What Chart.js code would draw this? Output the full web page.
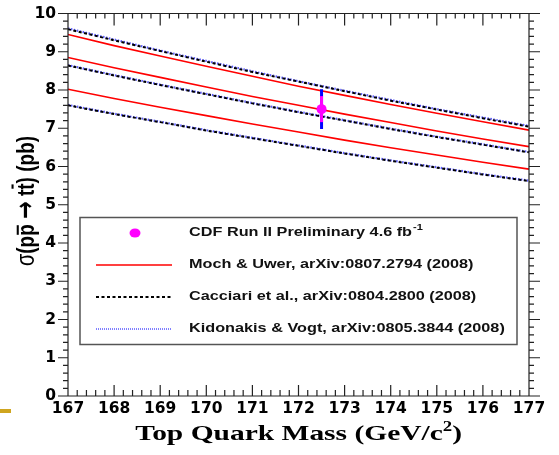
<!DOCTYPE html>
<html>
<head>
<meta charset="utf-8">
<script src="https://cdn.jsdelivr.net/npm/chart.js@4.4.1/dist/chart.umd.min.js"></script>
<style>
  html, body { margin: 0; padding: 0; background: #fff; }
</style>
</head>
<body>
<canvas id="chart" width="559" height="455"></canvas>
<script>
// top quark mass grid (GeV/c^2)
const masses = [167, 168, 169, 170, 171, 172, 173, 174, 175, 176, 177];

// ttbar cross section predictions (pb): upper / central / lower bands
const mochUpper   = [9.45, 9.16, 8.89, 8.62, 8.36, 8.10, 7.86, 7.62, 7.39, 7.17, 6.95];
const mochCentral = [8.85, 8.58, 8.33, 8.08, 7.83, 7.60, 7.37, 7.15, 6.93, 6.72, 6.52];
const mochLower   = [8.02, 7.78, 7.55, 7.33, 7.11, 6.90, 6.69, 6.49, 6.30, 6.11, 5.93];

const cacciariUpper   = [9.59, 9.30, 9.02, 8.74, 8.47, 8.22, 7.97, 7.72, 7.49, 7.26, 7.04];
const cacciariCentral = [8.64, 8.38, 8.13, 7.89, 7.65, 7.42, 7.20, 6.98, 6.77, 6.57, 6.37];
const cacciariLower   = [7.60, 7.37, 7.16, 6.94, 6.74, 6.54, 6.34, 6.15, 5.97, 5.79, 5.62];

const kidonakisUpper   = [9.61, 9.32, 9.03, 8.76, 8.49, 8.23, 7.98, 7.74, 7.50, 7.28, 7.06];
const kidonakisCentral = [8.65, 8.39, 8.14, 7.90, 7.66, 7.43, 7.21, 6.99, 6.78, 6.58, 6.38];
const kidonakisLower   = [7.61, 7.38, 7.17, 6.95, 6.75, 6.55, 6.35, 6.16, 5.98, 5.80, 5.63];

// CDF measurement
const cdfMass = [172.5];
const cdfXsec = [7.5];
const cdfErrStat = [0.34];
const cdfErrTotal = [0.52];

const legendLabels = [
  'CDF Run II Preliminary 4.6 fb',
  'Moch & Uwer, arXiv:0807.2794 (2008)',
  'Cacciari et al., arXiv:0804.2800 (2008)',
  'Kidonakis & Vogt, arXiv:0805.3844 (2008)'
];

const RED = '#ff0000';
const BLACK = '#000000';
const BLUE = 'rgba(50,50,255,0.8)';
const MAGENTA = '#ff00ff';

const pts = arr => masses.map((m, i) => ({ x: m, y: arr[i] }));

function redLine(arr) {
  return { type: 'line', data: pts(arr), borderColor: RED, borderWidth: 1.6,
           pointRadius: 0, tension: 0, order: 2 };
}
function blackLine(arr) {
  return { type: 'line', data: pts(arr), borderColor: BLACK, borderWidth: 2,
           borderDash: [3, 2.5], pointRadius: 0, tension: 0, order: 1 };
}
function blueLine(arr) {
  return { type: 'line', data: pts(arr), borderColor: BLUE, borderWidth: 2.2,
           borderDash: [1.5, 1.5], pointRadius: 0, tension: 0, order: 3 };
}

// text stretched along its own x axis
function wideText(ctx, text, x, y, sx) {
  ctx.save();
  ctx.translate(x, y);
  ctx.scale(sx, 1);
  ctx.fillText(text, 0, 0);
  ctx.restore();
  return ctx.measureText(text).width * sx;
}

const errorBars = {
  id: 'errorBars',
  beforeDatasetDraw(chart, args) {
    if (args.index !== 9) return;
    const ctx = chart.ctx, xs = chart.scales.x, ys = chart.scales.y;
    ctx.save();
    ctx.lineWidth = 3;
    cdfMass.forEach((m, i) => {
      const px = xs.getPixelForValue(m);
      ctx.strokeStyle = '#0000ff';
      ctx.beginPath();
      ctx.moveTo(px, ys.getPixelForValue(cdfXsec[i] + cdfErrTotal[i]));
      ctx.lineTo(px, ys.getPixelForValue(cdfXsec[i] - cdfErrTotal[i]));
      ctx.stroke();
      ctx.strokeStyle = MAGENTA;
      ctx.beginPath();
      ctx.moveTo(px, ys.getPixelForValue(cdfXsec[i] + cdfErrStat[i]));
      ctx.lineTo(px, ys.getPixelForValue(cdfXsec[i] - cdfErrStat[i]));
      ctx.stroke();
    });
    ctx.restore();
  }
};

const framePlugin = {
  id: 'frame',
  afterDraw(chart) {
    const ctx = chart.ctx;

    ctx.save();
    // slide accent bar
    ctx.fillStyle = '#cfa51f';
    ctx.fillRect(0, 409, 11, 4);

    // legend box
    ctx.fillStyle = '#fff';
    ctx.fillRect(80, 217.5, 437, 127);
    ctx.strokeStyle = '#555';
    ctx.lineWidth = 1.5;
    ctx.strokeRect(80, 217.5, 437, 127);

    const rows = [233, 265, 297, 329];
    ctx.fillStyle = MAGENTA;
    ctx.beginPath();
    ctx.ellipse(135, rows[0], 5.5, 4.5, 0, 0, Math.PI * 2);
    ctx.fill();

    ctx.lineWidth = 1.6; ctx.strokeStyle = RED;
    ctx.beginPath(); ctx.moveTo(96, rows[1]); ctx.lineTo(172, rows[1]); ctx.stroke();
    ctx.lineWidth = 2; ctx.strokeStyle = BLACK; ctx.setLineDash([3, 2.5]);
    ctx.beginPath(); ctx.moveTo(96, rows[2]); ctx.lineTo(172, rows[2]); ctx.stroke();
    ctx.lineWidth = 1; ctx.strokeStyle = '#0000ff'; ctx.setLineDash([1, 1]);
    ctx.beginPath(); ctx.moveTo(96, rows[3]); ctx.lineTo(172, rows[3]); ctx.stroke();
    ctx.setLineDash([]);

    ctx.fillStyle = '#111';
    ctx.textBaseline = 'middle';
    ctx.textAlign = 'left';
    legendLabels.forEach((t, i) => {
      ctx.font = 'bold 12.5px "Liberation Sans", Arial, sans-serif';
      const w = wideText(ctx, t, 189, rows[i], 1.3);
      if (i === 0) {
        ctx.font = 'bold 8.5px "Liberation Sans", Arial, sans-serif';
        wideText(ctx, '-1', 189 + w + 1, rows[i] - 5, 1.3);
      }
    });

    // x axis title
    ctx.fillStyle = '#000';
    ctx.textBaseline = 'alphabetic';
    const serif = 'bold 22px "Liberation Serif", "Times New Roman", serif';
    const serifSup = 'bold 14px "Liberation Serif", "Times New Roman", serif';
    const sx = 1.34;
    ctx.font = serif;
    const wMain = ctx.measureText('Top Quark Mass (GeV/c').width * sx;
    const wClose = ctx.measureText(')').width * sx;
    ctx.font = serifSup;
    const wSup = ctx.measureText('2').width * sx;
    const x0 = 298.6 - (wMain + wSup + wClose) / 2;
    ctx.font = serif;
    wideText(ctx, 'Top Quark Mass (GeV/c', x0, 440, sx);
    ctx.font = serifSup;
    wideText(ctx, '2', x0 + wMain, 431, sx);
    ctx.font = serif;
    wideText(ctx, ')', x0 + wMain + wSup, 440, sx);

    // y axis title: sigma(p pbar -> t tbar) (pb)
    const bold = 'bold 19px "Liberation Sans", Arial, sans-serif';
    const thin = '20px "Liberation Sans", Arial, sans-serif';
    const arrow = 'bold 21px "DejaVu Sans", sans-serif';
    const parts = [
      { t: '\u03c3', f: thin }, { t: '(', f: bold }, { t: 'p', f: bold },
      { t: 'p', f: bold, bar: -12.5 }, { t: ' ', f: bold }, { t: '\u2192', f: arrow },
      { t: ' ', f: bold }, { t: 't', f: bold }, { t: 't', f: bold, bar: -16.5 },
      { t: ') (pb)', f: bold }
    ];
    let total = 0;
    parts.forEach(p => { ctx.font = p.f; p.w = ctx.measureText(p.t).width; total += p.w; });
    ctx.translate(34, 201);
    ctx.rotate(-Math.PI / 2);
    ctx.scale(1, 1.3);
    let cx = -total / 2;
    ctx.strokeStyle = '#000';
    ctx.lineWidth = 1.6;
    parts.forEach(p => {
      ctx.font = p.f;
      ctx.fillText(p.t, cx, 0);
      if (p.bar) {
        ctx.beginPath();
        ctx.moveTo(cx + 1, p.bar); ctx.lineTo(cx + p.w - 1, p.bar);
        ctx.stroke();
      }
      cx += p.w;
    });
    ctx.restore();
  }
};

// plot frame and its ticks in one path: 50 divisions per axis,
// every fifth one major; x ticks point inward, y ticks outward
const axisTicks = {
  id: 'axisTicks',
  afterDraw(chart) {
    const ctx = chart.ctx;
    const { left, right, top, bottom } = chart.chartArea;
    const dx = (right - left) / 50, dy = (bottom - top) / 50;
    ctx.save();
    ctx.setLineDash([]);
    ctx.strokeStyle = '#222';
    ctx.lineWidth = 1.2;
    ctx.beginPath();
    ctx.rect(left, top, right - left, bottom - top);
    for (let i = 1; i < 50; i++) {
      const major = i % 5 === 0;
      const px = left + i * dx;
      ctx.moveTo(px, bottom); ctx.lineTo(px, bottom - (major ? 11 : 6));
      ctx.moveTo(px, top); ctx.lineTo(px, top + (major ? 12 : 5));
    }
    for (let i = 0; i <= 50; i++) {
      const major = i % 5 === 0;
      const py = bottom - i * dy;
      ctx.moveTo(left, py); ctx.lineTo(left - (major ? 10 : 5), py);
      ctx.moveTo(right, py); ctx.lineTo(right + (major ? 11 : 5), py);
    }
    ctx.stroke();
    ctx.restore();
  }
};

new Chart(document.getElementById('chart').getContext('2d'), {
  data: {
    datasets: [
      redLine(mochUpper), redLine(mochCentral), redLine(mochLower),
      blackLine(cacciariUpper), blackLine(cacciariCentral), blackLine(cacciariLower),
      blueLine(kidonakisUpper), blueLine(kidonakisCentral), blueLine(kidonakisLower),
      {
        type: 'scatter',
        data: cdfMass.map((m, i) => ({ x: m, y: cdfXsec[i] })),
        backgroundColor: MAGENTA, borderWidth: 0, pointRadius: 5, order: 0
      }
    ]
  },
  options: {
    responsive: false,
    animation: false,
    events: [],
    layout: { padding: { left: 28, right: 30, top: 13.5, bottom: 0 } },
    scales: {
      x: {
        type: 'linear', min: 167, max: 177,
        grid: { display: false, drawTicks: false, tickLength: 0 },
        border: { display: false },
        ticks: { stepSize: 1, padding: 4, color: '#000', maxRotation: 0,
                 font: { family: '"DejaVu Sans"', size: 15.5, weight: 'bold' } },
        afterFit: s => { s.height = 59; }
      },
      y: {
        type: 'linear', min: 0, max: 10,
        grid: { display: false, drawTicks: false, tickLength: 0 },
        border: { display: false },
        ticks: { stepSize: 1, padding: 12, color: '#000',
                 font: { family: '"DejaVu Sans"', size: 15.5, weight: 'bold' } },
        afterFit: s => { s.width = 40; s.paddingTop = 0; s.paddingBottom = 0; }
      }
    },
    plugins: { legend: { display: false }, tooltip: { enabled: false } }
  },
  plugins: [errorBars, framePlugin, axisTicks]
});
</script>
</body>
</html>
